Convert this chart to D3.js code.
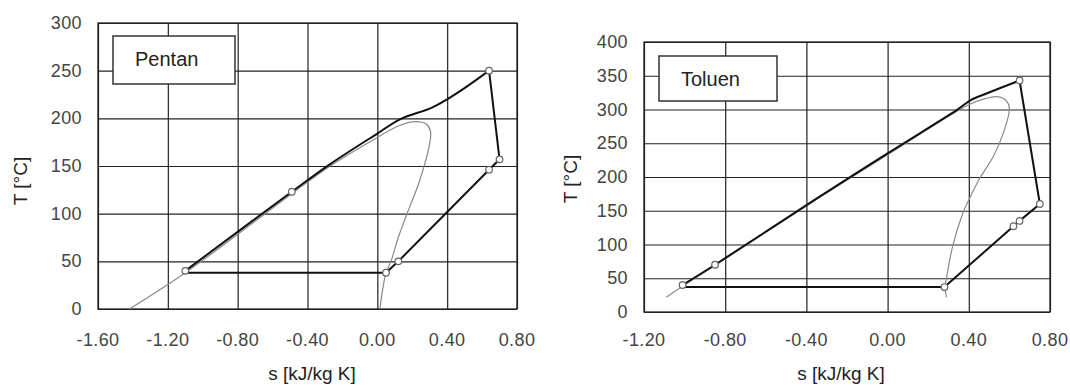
<!DOCTYPE html>
<html>
<head>
<meta charset="utf-8">
<script src="https://cdn.jsdelivr.net/npm/d3@7"></script>
<style>
  body { margin: 0; background: #fff; }
  svg { display: block; font-family: "Liberation Sans", Arial, sans-serif; }
  .grid line { stroke: #222; stroke-width: 1.2; }
  .grid path { display: none; }
</style>
</head>
<body>
<svg id="chart" width="1070" height="385"></svg>
<script>
// ---- Pentan (left) ----
var pentanXTicks = [-1.6, -1.2, -0.8, -0.4, 0.0, 0.4, 0.8];
var pentanYTicks = [0, 50, 100, 150, 200, 250, 300];
// heating line (pump outlet -> turbine inlet)
var pentanHeat = [[-1.10, 40], [-0.49, 123], [-0.27, 152], [0.0, 184], [0.13, 199],
                  [0.31, 211], [0.40, 220], [0.51, 233], [0.64, 250]];
// expansion, recuperation, condensation
var pentanRest = [[0.64, 250], [0.70, 157], [0.64, 146], [0.12, 50], [0.05, 38],
                  [-1.10, 38], [-1.10, 40]];
var pentanDome = [[-1.42, 0], [-1.10, 38], [-0.49, 121], [-0.27, 150], [0.0, 180],
                  [0.12, 192], [0.22, 196.5], [0.28, 194], [0.305, 186], [0.29, 165],
                  [0.26, 145], [0.23, 128], [0.20, 114], [0.17, 100], [0.12, 75],
                  [0.08, 51], [0.05, 38], [0.03, 20], [0.015, 0]];
var pentanMarks = [[-1.10, 40], [-0.49, 123], [0.64, 250], [0.70, 157], [0.64, 146],
                   [0.12, 50], [0.05, 38]];

// ---- Toluen (right) ----
var toluenXTicks = [-1.2, -0.8, -0.4, 0.0, 0.4, 0.8];
var toluenYTicks = [0, 50, 100, 150, 200, 250, 300, 350, 400];
var toluenHeat = [[-1.01, 40], [-0.85, 70], [-0.36, 166], [0.0, 235], [0.34, 299],
                  [0.41, 314], [0.49, 324], [0.65, 343]];
var toluenRest = [[0.65, 343], [0.75, 160], [0.65, 135], [0.62, 127], [0.28, 37],
                  [-1.01, 37], [-1.01, 40]];
var toluenDome = [[-1.09, 22], [-1.01, 38], [-0.85, 69], [-0.36, 165], [0.0, 233],
                  [0.30, 290], [0.40, 307], [0.48, 316], [0.54, 319], [0.585, 313],
                  [0.60, 302], [0.57, 265], [0.52, 230], [0.45, 196], [0.40, 166],
                  [0.37, 146], [0.32, 97], [0.29, 50], [0.283, 37], [0.29, 22]];
var toluenMarks = [[-1.01, 40], [-0.85, 70], [0.65, 343], [0.75, 160], [0.65, 135],
                   [0.62, 127], [0.28, 37]];

var svg = d3.select("#chart");
// plain hyphen instead of the unicode minus d3 puts in
var fmt = function(v) { return d3.format(".2f")(v).replace("\u2212", "-"); };

function drawChart(c) {
  var x = d3.scaleLinear().domain(c.xDomain).range([c.left, c.right]);
  var y = d3.scaleLinear().domain(c.yDomain).range([c.bottom, c.top]);
  var g = svg.append("g");

  // grid
  g.append("g").attr("class", "grid")
    .attr("transform", "translate(" + c.left + ",0)")
    .call(d3.axisLeft(y).tickValues(c.yTicks).tickSize(-(c.right - c.left)).tickFormat(""));
  g.append("g").attr("class", "grid")
    .attr("transform", "translate(0," + c.bottom + ")")
    .call(d3.axisBottom(x).tickValues(c.xTicks).tickSize(-(c.bottom - c.top)).tickFormat(""));
  g.append("rect")
    .attr("x", c.left).attr("y", c.top)
    .attr("width", c.right - c.left).attr("height", c.bottom - c.top)
    .attr("fill", "none").attr("stroke", "#222").attr("stroke-width", 1.3);

  // tick labels
  g.selectAll(".ylab").data(c.yTicks).enter().append("text")
    .attr("x", c.left - 16).attr("y", function(d) { return y(d) + 6; })
    .attr("text-anchor", "end").attr("fill", "#444").attr("font-size", 18)
    .attr("letter-spacing", 0.4)
    .text(function(d) { return d; });
  g.selectAll(".xlab").data(c.xTicks).enter().append("text")
    .attr("x", function(d) { return x(d); }).attr("y", 346)
    .attr("text-anchor", "middle").attr("fill", "#444").attr("font-size", 18)
    .attr("letter-spacing", 0.4)
    .text(function(d) { return fmt(d); });

  // axis titles
  g.append("text")
    .attr("x", c.xTitleX).attr("y", 380)
    .attr("text-anchor", "middle").attr("font-size", 19).attr("fill", "#222")
    .text("s [kJ/kg K]");
  g.append("text")
    .attr("transform", "translate(" + c.yTitleX + "," + c.yTitleY + ") rotate(-90)")
    .attr("text-anchor", "middle").attr("font-size", 19).attr("fill", "#222")
    .text("T [°C]");

  // legend box
  g.append("rect")
    .attr("x", c.box[0]).attr("y", c.box[1]).attr("width", c.box[2]).attr("height", c.box[3])
    .attr("fill", "#fff").attr("stroke", "#333").attr("stroke-width", 1.5);
  g.append("text")
    .attr("x", c.box[0] + 22).attr("y", c.box[1] + 30)
    .attr("font-size", 20).attr("fill", "#222")
    .text(c.name);

  var line = d3.line().x(function(d) { return x(d[0]); }).y(function(d) { return y(d[1]); });

  // saturation dome
  g.append("path")
    .attr("d", line.curve(d3.curveCatmullRom)(c.dome))
    .attr("fill", "none").attr("stroke", "#8a8a8a").attr("stroke-width", 1.2);

  // cycle
  g.append("path")
    .attr("d", line.curve(d3.curveCatmullRom)(c.heat))
    .attr("fill", "none").attr("stroke", "#111").attr("stroke-width", 2);
  g.append("path")
    .attr("d", line.curve(d3.curveLinear)(c.rest))
    .attr("fill", "none").attr("stroke", "#111").attr("stroke-width", 2)
    .attr("stroke-linejoin", "round");

  g.selectAll(".mk").data(c.marks).enter().append("circle")
    .attr("cx", function(d) { return x(d[0]); })
    .attr("cy", function(d) { return y(d[1]); })
    .attr("r", 3.3)
    .attr("fill", "#fff").attr("stroke", "#666").attr("stroke-width", 1.2);
}

drawChart({
  name: "Pentan",
  xDomain: [-1.6, 0.8], yDomain: [0, 300],
  xTicks: pentanXTicks, yTicks: pentanYTicks,
  left: 98, right: 517, top: 23, bottom: 309,
  xTitleX: 312, yTitleX: 27, yTitleY: 181,
  box: [113, 36, 122, 48],
  heat: pentanHeat, rest: pentanRest, dome: pentanDome, marks: pentanMarks
});

drawChart({
  name: "Toluen",
  xDomain: [-1.2, 0.8], yDomain: [0, 400],
  xTicks: toluenXTicks, yTicks: toluenYTicks,
  left: 644, right: 1050, top: 42, bottom: 312,
  xTitleX: 841, yTitleX: 577, yTitleY: 179,
  box: [659, 56, 118, 45],
  heat: toluenHeat, rest: toluenRest, dome: toluenDome, marks: toluenMarks
});
</script>
</body>
</html>
